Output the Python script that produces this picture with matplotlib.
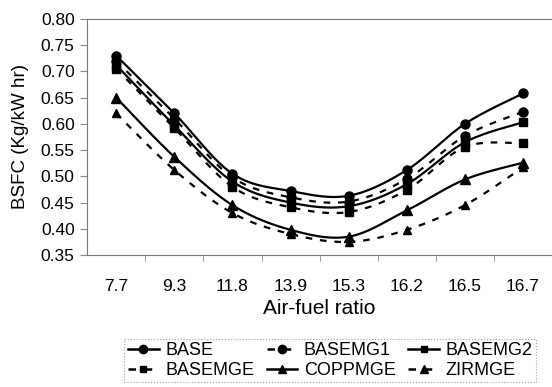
import numpy as np
import matplotlib.pyplot as plt

plt.rcParams['font.family'] = ['Liberation Sans', 'DejaVu Sans']

afr = ['7.7', '9.3', '11.8', '13.9', '15.3', '16.2', '16.5', '16.7']
base = [0.73, 0.62, 0.505, 0.472, 0.463, 0.512, 0.600, 0.658]
basemg1 = [0.720, 0.610, 0.498, 0.460, 0.452, 0.495, 0.577, 0.623]
basemg2 = [0.712, 0.597, 0.490, 0.450, 0.443, 0.485, 0.565, 0.603]
basemge = [0.705, 0.592, 0.480, 0.441, 0.432, 0.474, 0.556, 0.563]
coppmge = [0.650, 0.537, 0.445, 0.398, 0.385, 0.435, 0.494, 0.526]
zirmge = [0.620, 0.512, 0.430, 0.390, 0.375, 0.398, 0.445, 0.517]


def smooth(x, y, n=30):
    # Catmull-Rom curve through the points, like a spreadsheet "smoothed line"
    x = np.asarray(x, float)
    y = np.asarray(y, float)
    px = np.concatenate([[x[0]], x, [x[-1]]])
    py = np.concatenate([[y[0]], y, [y[-1]]])
    xs, ys = [], []
    t = np.linspace(0, 1, n)
    for i in range(1, len(px) - 2):
        for p, out in ((px, xs), (py, ys)):
            p0, p1, p2, p3 = p[i - 1], p[i], p[i + 1], p[i + 2]
            out.extend(0.5 * (2 * p1 + (-p0 + p2) * t
                              + (2 * p0 - 5 * p1 + 4 * p2 - p3) * t ** 2
                              + (-p0 + 3 * p1 - 3 * p2 + p3) * t ** 3))
    return xs, ys


fig = plt.figure(figsize=(5.52, 3.87), dpi=100)
ax = fig.add_axes([0.158, 0.341, 0.842, 0.61])

dash = (0, (3, 3.5))
series = [
    ('BASE', base, '-', 'o', 6.5),
    ('BASEMG1', basemg1, dash, 'o', 6.5),
    ('BASEMG2', basemg2, '-', 's', 5.5),
    ('BASEMGE', basemge, dash, 's', 5.5),
    ('COPPMGE', coppmge, '-', '^', 6.5),
    ('ZIRMGE', zirmge, dash, '^', 6),
]

xpos = np.arange(len(afr))
handles = []
for name, vals, ls, mk, ms in series:
    sx, sy = smooth(xpos, vals)
    ax.plot(sx, sy, color='black', linestyle=ls, linewidth=1.6)
    ax.plot(xpos, vals, linestyle='none', marker=mk, color='black', markersize=ms)
    h, = ax.plot([], [], color='black', linestyle=ls, linewidth=1.8,
                 marker=mk, markersize=ms - 0.5)
    handles.append((h, name))

ax.set_xlim(-0.5, len(afr) - 0.5)
ax.set_ylim(0.35, 0.80)
yt = np.arange(0.35, 0.801, 0.05)
ax.set_yticks(yt)
ax.set_yticklabels([f'{v:.2f}' for v in yt])
ax.set_xticks(xpos)
ax.set_xticklabels(afr)
ax.set_xticks(np.arange(0.5, len(afr) - 1, 1), minor=True)
ax.tick_params(axis='x', which='major', length=0, labelsize=12.5, pad=17)
ax.tick_params(axis='x', which='minor', length=4, color='#888888', direction='out')
ax.tick_params(axis='y', length=5, color='#888888', labelsize=12.5, pad=4)

for side in ['left', 'bottom', 'top']:
    ax.spines[side].set_color('#777777')
    ax.spines[side].set_linewidth(0.8)
ax.spines['right'].set_visible(False)

ax.set_xlabel('Air-fuel ratio', fontsize=15, va='top')
ax.xaxis.set_label_coords(0.5, -0.185)
ax.set_ylabel('BSFC (Kg/kW hr)', fontsize=13.5, va='center')
ax.yaxis.set_label_coords(-0.144, 0.5)

# legend fills row by row: reorder for matplotlib's column-wise filling
order = [0, 3, 1, 4, 2, 5]
leg = fig.legend([handles[i][0] for i in order], [handles[i][1] for i in order],
                 loc='center', bbox_to_anchor=(0.598, 0.0685), ncol=3,
                 fontsize=13, handlelength=1.7, handletextpad=0.35,
                 columnspacing=0.7, labelspacing=0.15, borderpad=0.2,
                 fancybox=False, frameon=True)
leg.get_frame().set_edgecolor('#888888')
leg.get_frame().set_linestyle(':')
leg.get_frame().set_linewidth(0.8)

fig.savefig('out.png', dpi=100)
